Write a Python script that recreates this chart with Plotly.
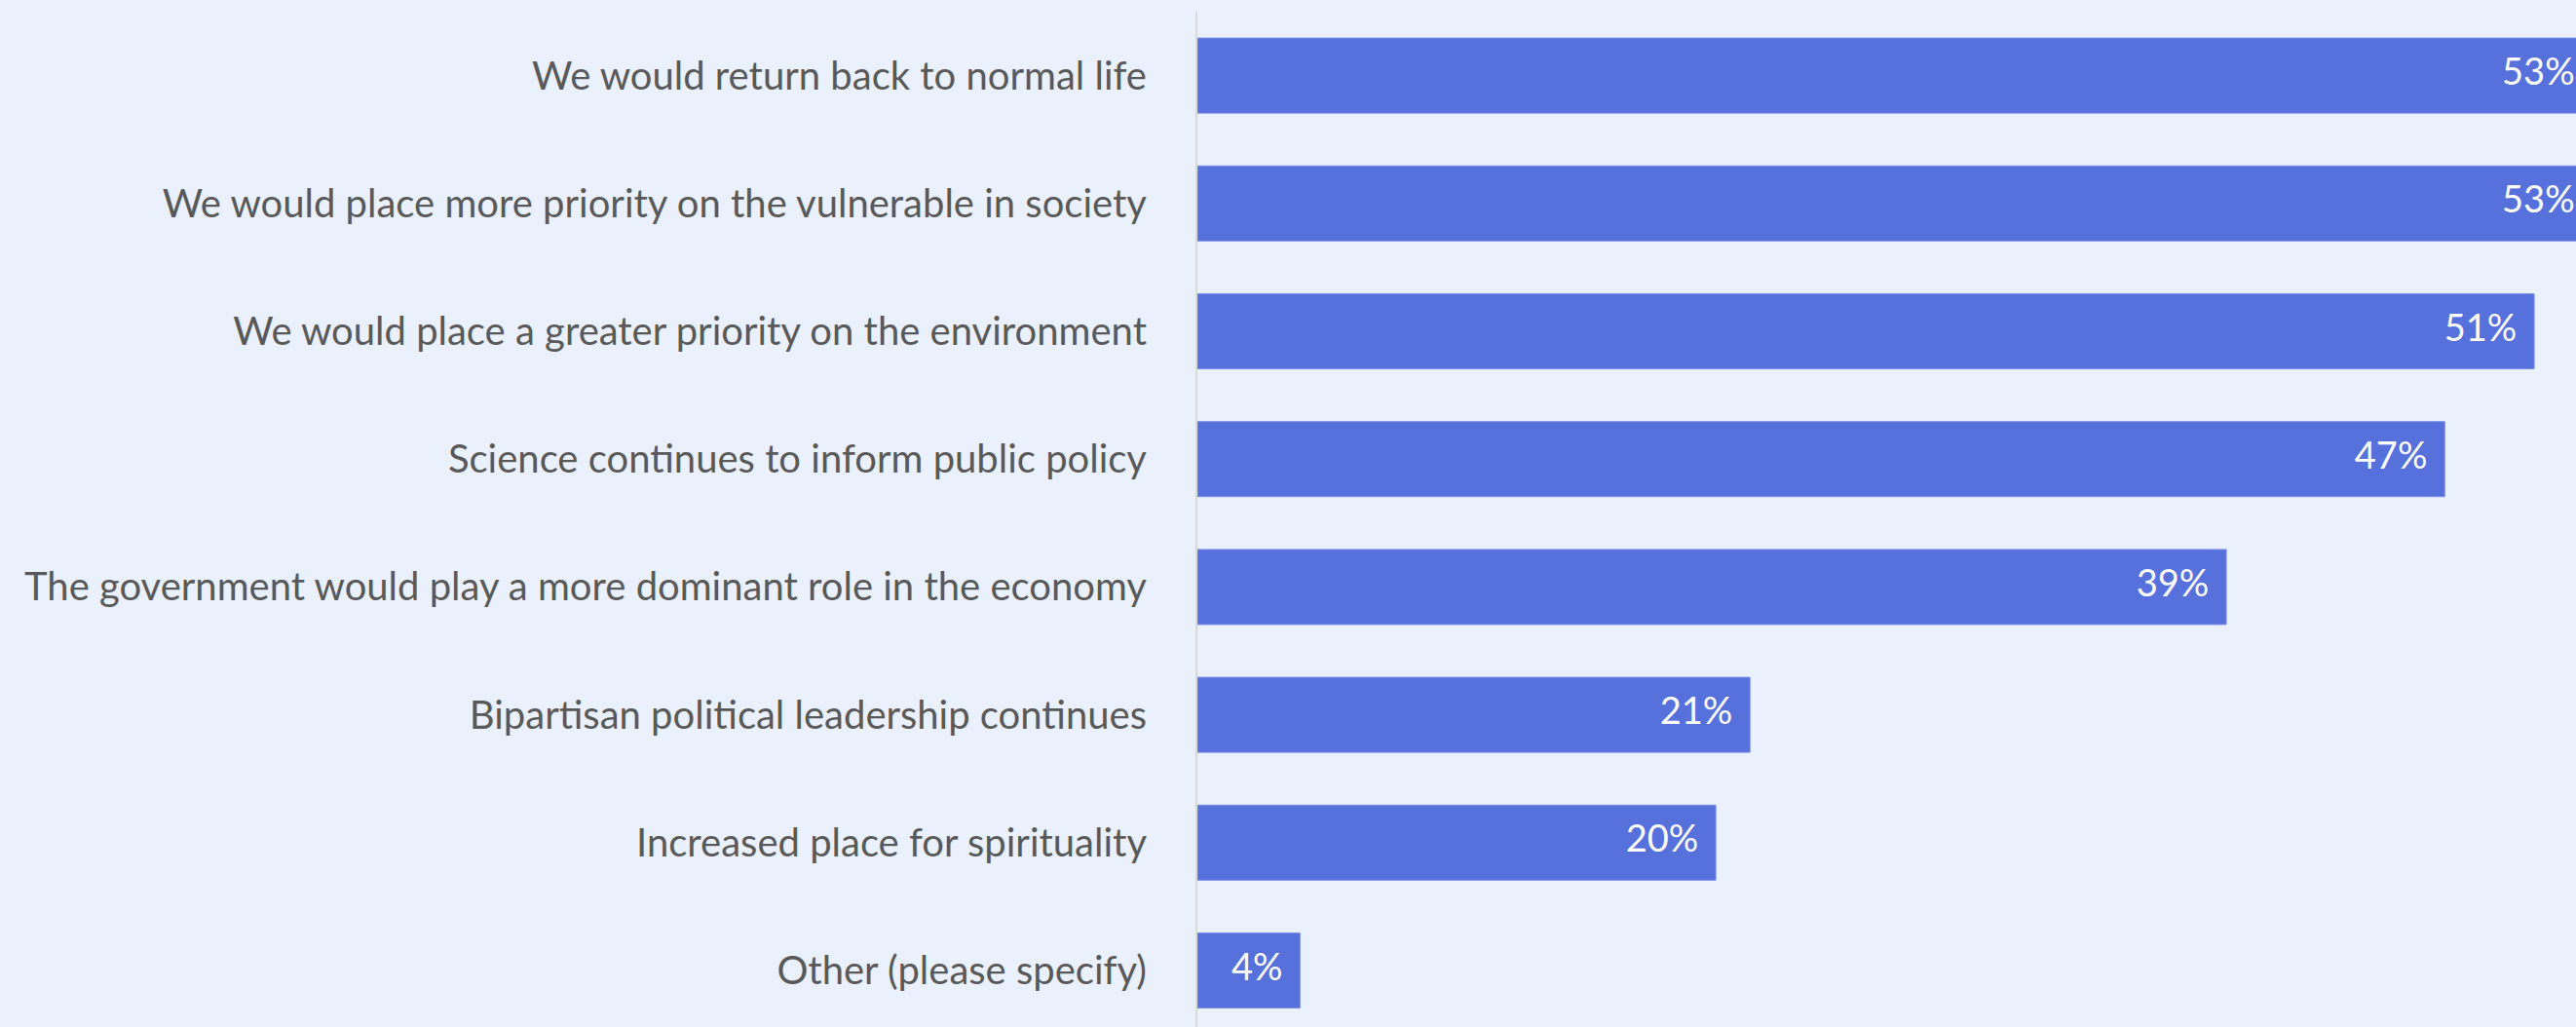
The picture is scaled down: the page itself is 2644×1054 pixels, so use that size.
import plotly.graph_objects as go

categories = [
    "We would return back to normal life",
    "We would place more priority on the vulnerable in society",
    "We would place a greater priority on the environment",
    "Science continues to inform public policy",
    "The government would play a more dominant role in the economy",
    "Bipartisan political leadership continues",
    "Increased place for spirituality",
    "Other (please specify)",
]
values = [53.0, 53.0, 50.8, 47.4, 39.1, 21.0, 19.7, 3.9]

labels = [f"{v:.0f}%" for v in values]

BG = "#EAF0FC"
BAR = "#5670DC"

fig = go.Figure()
fig.add_trace(
    go.Bar(
        x=values,
        y=categories,
        orientation="h",
        marker=dict(color=BAR, line=dict(color="#7A8FE6", width=1)),
        hoverinfo="skip",
    )
)
# value labels, placed just inside the end of each bar
fig.add_trace(
    go.Scatter(
        x=values,
        y=categories,
        mode="markers+text",
        marker=dict(size=27, opacity=0),
        text=labels,
        textposition="middle left",
        textfont=dict(family="Lato", size=38, color="white"),
        cliponaxis=True,
        hoverinfo="skip",
    )
)

fig.update_layout(
    width=2644,
    height=1054,
    paper_bgcolor=BG,
    plot_bgcolor=BG,
    margin=dict(l=1229, r=0, t=12, b=0, pad=0),
    bargap=0.413,
    showlegend=False,
    font=dict(family="Lato", color="#595959"),
    xaxis=dict(
        range=[0, (2644 - 1229.5) / 27.0],
        visible=False,
        showgrid=False,
        zeroline=False,
        fixedrange=True,
    ),
    yaxis=dict(
        type="category",
        categoryorder="array",
        categoryarray=categories,
        range=[7.442, -0.5],
        showgrid=False,
        zeroline=False,
        showline=True,
        linecolor="#D9D9D9",
        linewidth=2,
        ticks="",
        ticklabelstandoff=42,
        tickfont=dict(family="Lato", size=40, color="#595959"),
        fixedrange=True,
    ),
)

fig.write_html("out.html")
